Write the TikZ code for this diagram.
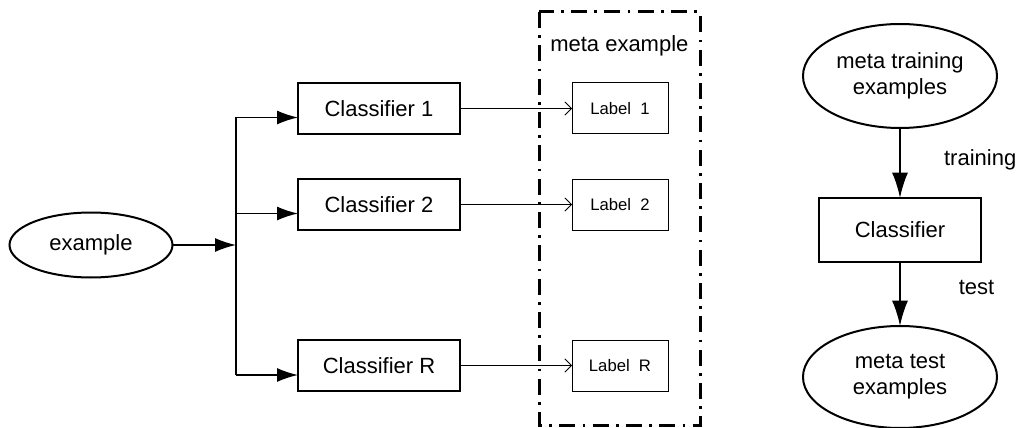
\documentclass[tikz,border=0pt]{standalone}
\usepackage{fontspec}
\setmainfont{Liberation Sans}
\usetikzlibrary{arrows.meta,calc,shapes.geometric}
\tikzset{
	clsbox/.style={draw, line width=1.5pt, minimum width=121.5pt, minimum height=38.25pt, inner sep=0, outer sep=0},
	lblbox/.style={draw, line width=0.75pt, minimum width=72pt, minimum height=38.25pt, inner sep=0, outer sep=0,
		font=\fontsize{12.5}{15}\selectfont},
	exell/.style={draw, ellipse, line width=1.5pt, inner sep=0, outer sep=0, align=center},
	feedarr/.style={line width=1.1pt, -{Latex[length=15.75pt,width=10.5pt]}},
	phasearr/.style={line width=1.5pt, -{Latex[length=19pt,width=12pt]}},
	outarr/.style={line width=0.6pt, -{Straight Barb[length=5pt,width=10pt]}},
	metabox/.style={line width=2.25pt, dash pattern=on 12pt off 5.5pt on 2pt off 5.5pt}
}
\newcommand{\lbl}[1]{Label\ \ #1}

\begin{document}
\begin{tikzpicture}[x=0.75pt, y=-0.75pt, font=\fontsize{16.5}{19.5}\selectfont]
				\useasboundingbox (0,0) rectangle (1018,428);
				\node[exell, minimum width=122.25pt, minimum height=48.75pt] (ex) at (91,245) {example};
				\node[clsbox] (c1) at (379,108.5) {Classifier 1};
				\node[clsbox] (c2) at (379,204.5) {Classifier 2};
				\node[clsbox] (cR) at (379,365.5) {Classifier R};
				\node[lblbox] (l1) at (620,108.5) {\lbl{1}};
				\node[lblbox] (l2) at (620,204.5) {\lbl{2}};
				\node[lblbox] (lR) at (620,365.5) {\lbl{R}};
				
				\draw[metabox] (539,12) rectangle (700,425);
				\node[anchor=west, inner sep=0] (metaex) at (550,46) {meta example};
				
				\coordinate (fork) at (236,245);
				\path (c1.west) ++(0,9) coordinate (c1in);
				\path (c2.west) ++(0,9) coordinate (c2in);
				\path (cR.west) ++(0,9.5) coordinate (cRin);
				
				\draw[feedarr] (ex) -- (fork);
				\draw[line width=1.1pt] (fork |- c1in) -- (fork |- cRin);
				\foreach \c in {c1in,c2in,cRin}
					\draw[feedarr] (fork |- \c) -- (\c);
				\foreach \a/\b in {c1/l1,c2/l2,cR/lR}
					\draw[outarr] (\a) -- (\b);
				
				%right part
				\node[exell, minimum width=145.5pt, minimum height=78pt] (mtrain) at (900,76) {meta training\\examples};
				\node[clsbox, minimum height=48pt] (cls) at (900,230) {Classifier};
				\node[exell, minimum width=145.5pt, minimum height=76.5pt] (mtest) at (900,377) {meta test\\examples};
				\draw[phasearr] (mtrain) -- (cls) node[pos=0.45, right=29pt] (trlbl) {training};
				\draw[phasearr] (cls) -- (mtest) node[pos=0.4, right=40pt] (telbl) {test};
			\end{tikzpicture}
\end{document}
